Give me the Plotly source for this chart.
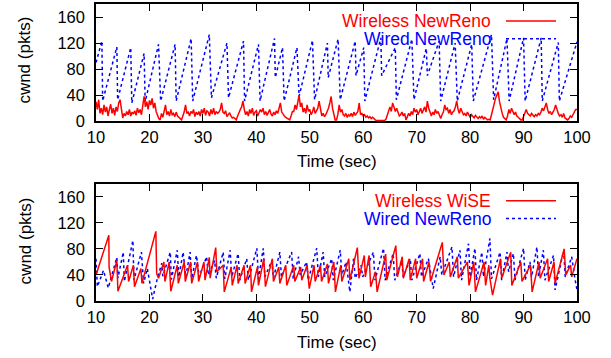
import numpy as np
import plotly.graph_objects as go

# ---------------- data ----------------
# Top panel: Wireless NewReno cwnd (sampled every 0.25 s from 10 s to 100 s)
top_wireless_vals = [
    30, 18, 33, 12,  20, 10, 25, 14,  22, 8, 18, 26,  12, 20, 9, 22,  15, 28, 33, 14,
    5, 12, 8, 15,  10, 18, 8, 14,  11, 16, 9, 20,  13, 18, 10, 24,  38, 22, 30, 18,
    32, 25, 35, 20,  28, 15, 8, 4,  2, 12, 6, 14,  25, 10, 15, 8,  18, 10, 12, 7,
    14, 8, 6, 4,  2, 8, 14, 25,  12, 14, 8, 15,  12, 18, 7, 14,  10, 15, 8, 18,
    12, 20, 9, 16,  14, 8, 18, 11,  20, 10, 15, 12,  14, 18, 28, 14,  12, 16, 7, 10,
    13, 8, 5, 6,  4, 2, 8, 14,  18, 22, 31, 18,  10, 15, 8, 18,  12, 20, 9, 14,
    16, 8, 12, 18,  14, 20, 10, 15,  9, 13, 18, 11,  8, 14, 10, 16,  12, 20, 28, 14,
    10, 8, 6, 5,  4, 2, 8, 15,  15, 25, 18, 30,  40, 22, 28, 14,  20, 12, 25, 15,
    18, 10, 14, 22,  12, 16, 20, 31,  16, 8, 12, 7,  10, 14, 20, 28,  38, 20, 8, 2,
    2, 10, 25, 14,  18, 10, 8, 12,  6, 10, 8, 12,  7, 14, 9, 12,  15, 28, 10, 12,
    8, 10, 6, 8,  5, 7, 4, 6,  3, 2, 1, 1,  1, 1, 1, 2,  1, 3, 10, 18,
    22, 15, 28, 22,  15, 20, 12, 8,  10, 14, 8, 12,  2, 6, 12, 8,  15, 10, 20, 14,
    18, 10, 14, 20,  12, 16, 22, 14,  31, 20, 12, 8,  14, 10, 18, 12,  15, 8, 4, 10,
    14, 25, 18, 20,  12, 18, 10, 14,  16, 22, 31, 18,  12, 20, 14, 10,  12, 8, 14, 10,
    6, 10, 8, 5,  9, 6, 4, 7,  5, 8, 3, 6,  4, 2, 3, 2,  10, 20, 28, 35,
    40, 45, 30, 18,  12, 6, 3, 2,  8, 18, 12, 20,  15, 10, 14, 8,  6, 4, 2, 2,
    8, 14, 18, 12,  10, 8, 12, 9,  7, 10, 8, 12,  10, 14, 20, 16,  22, 28, 18, 12,
    15, 10, 14, 18,  25, 16, 12, 8,  10, 6, 12, 5,  3, 2, 4, 8,  6, 10, 14, 18,
    18,
]
top_wireless_t = np.linspace(10, 100, len(top_wireless_vals))

# Top panel: Wired NewReno cwnd (turning points)
top_wired_t = [10.0, 11.1, 11.25, 13.9, 14.05, 16.5, 16.7, 19.0, 19.2, 21.7, 22.1, 24.8, 25.0,
               27.8, 28.1, 31.2, 31.6, 34.5, 34.8, 37.6, 37.8, 40.4, 40.7, 43.4, 43.55, 44.9,
               45.2, 47.6, 48.0, 50.5, 50.9, 53.3, 53.45, 55.3, 55.7, 58.5, 58.65, 60.1, 60.3,
               63.3, 63.45, 66.0, 66.2, 69.1, 69.5, 71.8, 72.0, 74.2, 74.5, 77.2, 77.6, 80.3,
               80.6, 84.0, 84.4, 86.9, 87.3, 90.0, 90.3, 93.3, 93.5, 96.5, 96.7, 100.0]
top_wired_v = [90, 123, 31, 114, 33, 113, 28, 104, 30, 118, 31, 118, 31,
               127, 31, 133, 36, 120, 36, 123, 31, 118, 31, 127, 67, 113,
               31, 113, 38, 124, 33, 120, 67, 126, 33, 123, 70, 113, 31,
               128, 70, 113, 33, 126, 33, 112, 70, 123, 31, 120, 31, 118,
               31, 133, 33, 127, 31, 128, 31, 128, 31, 121, 31, 122]

# Bottom panel: Wireless WiSE cwnd (turning points)
bot_wise_t = [10.0, 12.4, 12.45, 12.9, 13.9, 14.1, 15.9, 16.1, 17.0, 17.2, 18.4, 18.6, 21.2, 21.35,
              21.7, 22.7, 22.9, 23.7, 24.0, 25.2, 25.4, 26.5, 26.7, 27.7, 27.9, 29.0, 29.2, 30.2,
              30.4, 31.2, 31.35, 32.4, 32.6, 33.8, 34.0, 35.3, 35.5, 36.4, 36.6, 37.7, 37.9, 38.9,
              39.1, 40.2, 40.4, 41.4, 41.7, 43.0, 43.2, 44.2, 44.4, 45.5, 45.7, 47.0, 47.2, 48.3,
              48.5, 49.5, 49.9, 50.8, 51.0, 52.0, 52.2, 53.3, 53.5, 54.5, 54.8, 55.8, 56.0, 57.3,
              57.5, 58.9, 59.2, 60.2, 60.4, 61.1, 61.4, 62.3, 62.6, 64.2, 64.4, 66.1, 66.4, 67.3,
              67.5, 68.6, 68.8, 69.8, 70.0, 71.1, 71.3, 72.3, 72.6, 74.8, 75.1, 76.1, 76.3, 77.6,
              77.8, 79.5, 79.8, 80.7, 81.0, 82.6, 82.9, 83.5, 83.7, 84.2, 85.7, 85.9, 87.6, 87.8,
              89.5, 89.7, 91.3, 91.6, 92.9, 93.1, 94.5, 94.7, 95.7, 95.9, 97.6, 97.9, 98.8, 99.0,
              100.0]
bot_wise_v = [40, 101, 52, 30, 62, 15, 55, 30, 55, 22, 50, 27, 107, 42,
              35, 60, 30, 60, 15, 55, 27, 60, 30, 60, 27, 60, 30, 60,
              32, 67, 35, 82, 45, 55, 14, 52, 24, 55, 27, 55, 27, 55,
              14, 52, 24, 65, 22, 65, 30, 52, 27, 55, 24, 55, 30, 52,
              32, 55, 19, 55, 30, 55, 30, 57, 27, 60, 14, 55, 30, 65,
              32, 82, 35, 70, 37, 70, 22, 45, 14, 72, 32, 85, 37, 68,
              35, 65, 32, 65, 35, 65, 30, 60, 30, 90, 40, 60, 37, 68,
              35, 60, 24, 60, 14, 60, 24, 55, 35, 9, 65, 35, 75, 24,
              60, 30, 55, 14, 60, 35, 65, 30, 60, 27, 80, 40, 55, 37,
              65]

# Bottom panel: Wired NewReno cwnd (turning points)
bot_wired_t = [10.0, 10.25, 11.4, 12.3, 13.9, 14.1, 15.1, 15.3, 16.9, 17.1, 18.5, 18.9, 19.6, 20.6,
               21.4, 22.3, 22.5, 23.9, 24.1, 25.2, 25.5, 26.3, 26.8, 27.6, 27.9, 28.8, 29.3, 30.7,
               31.0, 32.2, 32.5, 33.8, 34.1, 35.1, 35.4, 36.6, 36.9, 38.2, 38.5, 40.1, 40.4, 41.3,
               41.6, 42.9, 43.2, 44.4, 44.7, 46.6, 46.9, 47.9, 48.2, 49.4, 49.7, 51.3, 51.6, 52.5,
               52.8, 54.1, 54.4, 55.7, 56.0, 56.8, 57.5, 58.2, 58.5, 59.6, 59.9, 61.9, 62.2, 63.8,
               64.1, 65.6, 65.9, 67.2, 67.5, 68.8, 69.1, 70.6, 70.9, 72.2, 73.1, 74.4, 74.7, 76.6,
               76.9, 78.1, 78.4, 79.7, 80.0, 80.9, 81.2, 82.2, 82.5, 83.7, 84.0, 85.6, 85.9, 86.9,
               87.2, 88.1, 88.4, 90.0, 90.3, 91.2, 91.5, 92.5, 92.8, 93.7, 94.0, 95.6, 95.9, 97.5,
               97.8, 99.0, 99.6, 100.0]
bot_wired_v = [65, 22, 47, 20, 67, 35, 75, 30, 93, 32, 75, 27, 50, 3,
               32, 58, 38, 75, 33, 78, 37, 75, 37, 75, 34, 70, 37, 68,
               40, 62, 35, 75, 34, 78, 37, 73, 32, 65, 32, 81, 34, 81,
               37, 62, 35, 75, 37, 75, 34, 68, 40, 60, 32, 81, 37, 75,
               37, 65, 32, 78, 40, 60, 14, 65, 35, 55, 37, 75, 32, 81,
               32, 73, 32, 62, 37, 65, 32, 73, 37, 65, 19, 68, 40, 83,
               37, 78, 32, 88, 37, 81, 32, 75, 37, 96, 34, 75, 32, 75,
               45, 73, 32, 81, 32, 60, 37, 83, 37, 78, 32, 70, 17, 78,
               37, 68, 35, 17]

x_ticks = [10, 20, 30, 40, 50, 60, 70, 80, 90, 100]
y_ticks = [0, 40, 80, 120, 160]

# ---------------- styling ----------------
RED = "#ff0000"
BLUE = "#0000ff"
FONT = "Liberation Sans, Arial, Helvetica, sans-serif"
dotted = "3px,3px"

fig = go.Figure()
fig.add_trace(go.Scatter(x=top_wired_t, y=top_wired_v, mode="lines",
                         line=dict(color=BLUE, width=1.5, dash=dotted),
                         xaxis="x", yaxis="y", showlegend=False))
fig.add_trace(go.Scatter(x=top_wireless_t, y=top_wireless_vals, mode="lines",
                         line=dict(color=RED, width=1.5),
                         xaxis="x", yaxis="y", showlegend=False))
fig.add_trace(go.Scatter(x=bot_wired_t, y=bot_wired_v, mode="lines",
                         line=dict(color=BLUE, width=1.5, dash=dotted),
                         xaxis="x2", yaxis="y2", showlegend=False))
fig.add_trace(go.Scatter(x=bot_wise_t, y=bot_wise_v, mode="lines",
                         line=dict(color=RED, width=1.5),
                         xaxis="x2", yaxis="y2", showlegend=False))

axis_common = dict(showline=True, linecolor="black", linewidth=1.5, mirror="allticks",
                   ticks="inside", ticklen=7, tickwidth=1.2, tickcolor="black",
                   showgrid=False, zeroline=False,
                   tickfont=dict(family=FONT, size=16.5, color="black"))

L, R, T, B = 96, 34, 2, 57
W, H = 611, 358
PH = H - T - B

def py(pix):
    return (H - B - pix) / PH

def px(pix):
    return (pix - L) / (W - L - R)

fig.update_layout(
    width=W, height=H,
    margin=dict(l=L, r=R, t=T, b=B),
    paper_bgcolor="white", plot_bgcolor="white",
    xaxis=dict(domain=[0, 1], range=[10, 100], tickvals=x_ticks, anchor="y", **axis_common),
    yaxis=dict(domain=[py(120), 1], range=[0, 180], tickvals=y_ticks, anchor="x",
               ticklabelstandoff=6, **axis_common),
    xaxis2=dict(domain=[0, 1], range=[10, 100], tickvals=x_ticks, anchor="y2", **axis_common),
    yaxis2=dict(domain=[0, py(183)], range=[0, 180], tickvals=y_ticks, anchor="x2",
                ticklabelstandoff=6, **axis_common),
    font=dict(family=FONT, color="black"),
)

ann = []
for yc in (59, 241):
    ann.append(dict(text="cwnd (pkts)", x=px(25), y=py(yc), xref="paper", yref="paper",
                    xanchor="center", yanchor="middle",
                    textangle=-90, showarrow=False, font=dict(size=17, family=FONT, color="black")))
for yc in (161, 343):
    ann.append(dict(text="Time (sec)", x=px(336.5), y=py(yc), xref="paper", yref="paper",
                    xanchor="center", yanchor="middle",
                    showarrow=False, font=dict(size=17, family=FONT, color="black")))

legend_items = [("Wireless NewReno", RED, 19, None), ("Wired NewReno", BLUE, 37, dotted),
                ("Wireless WiSE", RED, 200, None), ("Wired NewReno", BLUE, 218, dotted)]
shapes = []
for text, col, yc, dash in legend_items:
    ann.append(dict(text=text, x=px(493), y=py(yc), xref="paper", yref="paper",
                    xanchor="right", yanchor="middle", showarrow=False,
                    font=dict(size=17.5, family=FONT, color=col)))
    shapes.append(dict(type="line", xref="paper", yref="paper",
                       x0=px(506), x1=px(556), y0=py(yc), y1=py(yc),
                       line=dict(color=col, width=1.5, dash=dash if dash else "solid")))

fig.update_layout(annotations=ann, shapes=shapes)
fig.write_html("out.html", config={"displayModeBar": False},
               post_script="document.body.style.margin='0px';document.body.style.overflow='hidden';")
